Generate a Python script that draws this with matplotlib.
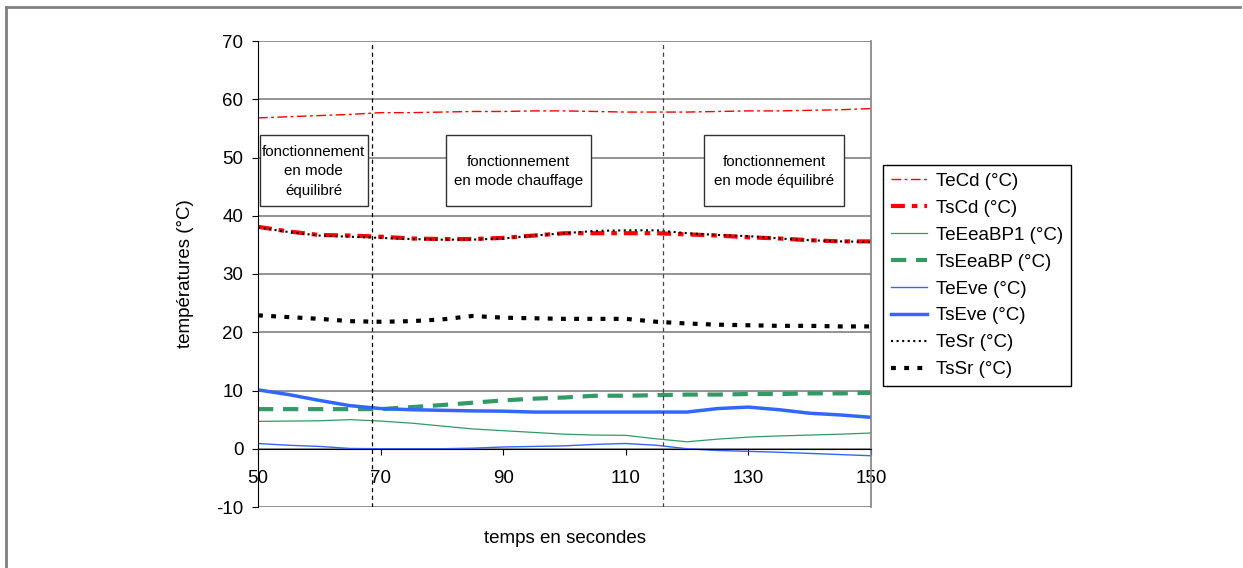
import matplotlib
matplotlib.use("Agg")
import matplotlib.pyplot as plt
from matplotlib.patches import Rectangle

plt.rcParams['font.family'] = ['Liberation Sans', 'DejaVu Sans']
plt.rcParams['lines.scale_dashes'] = False
plt.rcParams['axes.unicode_minus'] = False

# temps (s)
temps = [50, 55, 60, 65, 70, 75, 80, 85, 90, 95, 100,
         105, 110, 115, 120, 125, 130, 135, 140, 145, 150]

TeCd = [56.8, 57.0, 57.2, 57.4, 57.7, 57.7, 57.8, 57.9, 57.9, 58.0, 58.0,
        57.9, 57.8, 57.8, 57.8, 57.9, 58.0, 58.0, 58.1, 58.2, 58.4]
TsCd = [38.1, 37.3, 36.7, 36.6, 36.4, 36.1, 36.0, 36.0, 36.2, 36.6, 37.0,
        37.0, 37.0, 37.0, 36.8, 36.6, 36.3, 36.1, 35.8, 35.6, 35.6]
TeEeaBP1 = [4.7, 4.75, 4.8, 5.0, 4.75, 4.4, 3.9, 3.4, 3.1, 2.8, 2.5,
            2.35, 2.3, 1.7, 1.2, 1.65, 2.0, 2.2, 2.35, 2.5, 2.7]
TsEeaBP = [6.8, 6.8, 6.8, 6.8, 6.8, 7.15, 7.5, 7.9, 8.3, 8.6, 8.8,
           9.1, 9.1, 9.2, 9.3, 9.3, 9.4, 9.4, 9.5, 9.5, 9.6]
TeEve = [0.9, 0.6, 0.4, 0.05, 0.0, 0.0, 0.0, 0.1, 0.3, 0.4, 0.5,
         0.75, 0.9, 0.6, 0.0, -0.3, -0.45, -0.6, -0.8, -1.0, -1.2]
TsEve = [10.1, 9.3, 8.3, 7.4, 6.9, 6.7, 6.6, 6.5, 6.45, 6.3, 6.3,
         6.3, 6.3, 6.3, 6.3, 6.9, 7.15, 6.7, 6.1, 5.8, 5.4]
TeSr = [38.0, 37.2, 36.6, 36.4, 36.2, 36.0, 35.9, 35.9, 36.1, 36.6, 37.0,
        37.4, 37.5, 37.5, 37.0, 36.7, 36.5, 36.1, 35.8, 35.6, 35.5]
TsSr = [22.9, 22.6, 22.3, 21.9, 21.8, 21.9, 22.2, 22.8, 22.5, 22.4, 22.3,
        22.3, 22.3, 21.8, 21.5, 21.3, 21.2, 21.1, 21.1, 21.0, 21.0]

# changements de mode
transitions = [68.6, 116.1]
zones = [(50.3, 67.9, 'fonctionnement\nen mode\néquilibré'),
         (80.7, 104.3, 'fonctionnement\nen mode chauffage'),
         (122.8, 145.6, 'fonctionnement\nen mode équilibré')]

red = '#FF0000'
green = '#339966'
blue = '#3366FF'

fig = plt.figure(figsize=(12.43, 5.68), dpi=100)
ax = fig.add_axes([258/1243, 61/568, 613/1243, 466/568])

ax.plot(temps, TeCd, color=red, lw=1.0, dashes=[7, 2.5, 2, 2.5], label='TeCd (°C)')
ax.plot(temps, TsCd, color=red, lw=3.0, dashes=[10, 5, 4, 5], label='TsCd (°C)')
ax.plot(temps, TeEeaBP1, color=green, lw=0.9, label='TeEeaBP1 (°C)')
ax.plot(temps, TsEeaBP, color=green, lw=3.0, dashes=[11, 7], label='TsEeaBP (°C)')
ax.plot(temps, TeEve, color=blue, lw=1.0, label='TeEve (°C)')
ax.plot(temps, TsEve, color=blue, lw=2.5, label='TsEve (°C)')
ax.plot(temps, TeSr, color='black', lw=1.5, dashes=[1.5, 2.5], label='TeSr (°C)')
ax.plot(temps, TsSr, color='black', lw=3.0, dashes=[3.5, 6], label='TsSr (°C)')

for t, c in zip(transitions, ['black', '#444444']):
    ax.axvline(t, color=c, lw=0.9, dashes=[3, 2.5], zorder=3)

for x0, x1, txt in zones:
    ax.add_patch(Rectangle((x0, 41.6), x1 - x0, 12.2, facecolor='white',
                           edgecolor='#333333', lw=1.0, zorder=4))
    ax.text((x0 + x1) / 2, 47.6, txt, ha='center', va='center',
            fontsize=10.9, linespacing=1.5, zorder=5)

ax.set_xlim(50, 150)
ax.set_ylim(-10, 70)
ax.set_xticks([50, 70, 90, 110, 130, 150])
ax.set_yticks(range(-10, 71, 10))
ax.yaxis.grid(True, color='#808080', lw=1.2)
ax.set_axisbelow(True)

ax.spines['bottom'].set_position(('data', 0))
ax.spines['bottom'].set_color('black')
ax.spines['top'].set_visible(False)
ax.spines['right'].set_color('#808080')
ax.spines['right'].set_linewidth(1.2)
ax.spines['left'].set_color('black')

ax.tick_params(axis='x', length=4.5, pad=10.5, labelsize=13.5, direction='out')
ax.tick_params(axis='y', length=4, pad=6.5, labelsize=13.5)

ax.set_xlabel('temps en secondes', fontsize=13.5)
ax.xaxis.set_label_coords(0.5, -0.05)
ax.set_ylabel('températures (°C)', fontsize=13.5)
ax.yaxis.set_label_coords(-0.105, 0.5)

leg = fig.legend(loc='upper left', bbox_to_anchor=(883/1243, 1 - 165/568),
                 borderaxespad=0, fontsize=13.5, frameon=True, fancybox=False,
                 framealpha=1, edgecolor='black', handlelength=1.9,
                 handletextpad=0.5, labelspacing=0.52, borderpad=0.42)
leg.get_frame().set_linewidth(1.0)

# cadre du graphique
fig.add_artist(plt.Line2D([6/1243, 6/1243], [0, 1 - 7/568], color='#808080', lw=2))
fig.add_artist(plt.Line2D([6/1243, 1240/1243], [1 - 7/568, 1 - 7/568], color='#808080', lw=2))

fig.savefig('out.png', dpi=100)
